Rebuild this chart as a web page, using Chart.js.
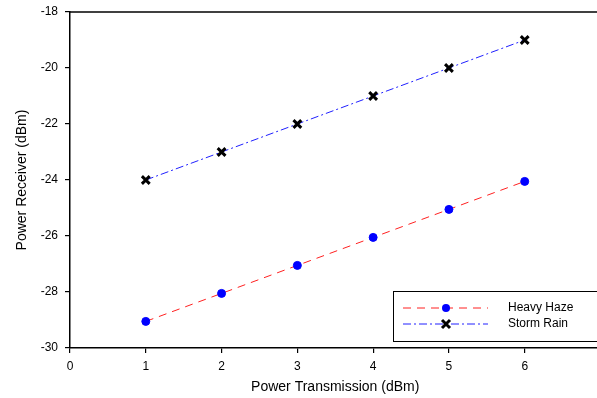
<!DOCTYPE html>
<html>
<head>
<meta charset="utf-8">
<script src="https://cdn.jsdelivr.net/npm/chart.js@4.4.1/dist/chart.umd.min.js"></script>
<style>
  html, body { margin: 0; padding: 0; background: #fff; overflow: hidden; }
  #wrap { width: 609px; height: 398px; }
</style>
</head>
<body>
<div id="wrap"><canvas id="chart" width="609" height="398"></canvas></div>
<script>
// Datos
const txPower = [1, 2, 3, 4, 5, 6];
const heavyHaze = [-29.05, -28.05, -27.05, -26.05, -25.05, -24.05];
const stormRain = [-24, -23, -22, -21, -20, -19];
const seriesNames = ['Heavy Haze', 'Storm Rain'];

const FONT = '"Liberation Sans", Arial, sans-serif';

/* -------- leyenda dentro del área + línea superior del marco -------- */
const framePlugin = {
    id: 'frame',
    afterDraw(chart) {
        const { ctx, chartArea } = chart;
        ctx.save();
        // borde superior
        ctx.strokeStyle = '#000';
        ctx.lineWidth = 1.5;
        ctx.beginPath();
        ctx.moveTo(chartArea.left, chartArea.top);
        ctx.lineTo(chartArea.right + 10, chartArea.top);
        ctx.stroke();

        // caja de la leyenda
        const bx = 393, by = 291, bw = 220, bh = 50;
        ctx.fillStyle = '#fff';
        ctx.fillRect(bx, by, bw, bh);
        ctx.lineWidth = 1;
        ctx.strokeRect(bx + 0.5, by + 0.5, bw, bh);

        const rows = [by + 17, by + 33];
        chart.data.datasets.forEach((ds, i) => {
            const y = rows[i];
            ctx.strokeStyle = ds.borderColor;
            ctx.lineWidth = 1;
            ctx.setLineDash(ds.borderDash);
            ctx.beginPath();
            ctx.moveTo(403, y);
            ctx.lineTo(488, y);
            ctx.stroke();
            ctx.setLineDash([]);
            // marcador
            const mx = 446;
            if (ds.pointStyle === 'circle') {
                ctx.fillStyle = ds.pointBackgroundColor;
                ctx.beginPath();
                ctx.arc(mx, y, 4, 0, Math.PI * 2);
                ctx.fill();
            } else {
                ctx.strokeStyle = '#000';
                ctx.lineWidth = 3;
                ctx.beginPath();
                ctx.moveTo(mx - 4, y - 4); ctx.lineTo(mx + 4, y + 4);
                ctx.moveTo(mx + 4, y - 4); ctx.lineTo(mx - 4, y + 4);
                ctx.stroke();
            }
            ctx.fillStyle = '#000';
            ctx.font = '12px ' + FONT;
            ctx.textBaseline = 'middle';
            ctx.fillText(ds.label, 508, y);
        });
        ctx.restore();
    }
};

const ctx = document.getElementById('chart').getContext('2d');
new Chart(ctx, {
    type: 'line',
    data: {
        labels: txPower,
        datasets: [
            {
                label: seriesNames[0],
                data: txPower.map((x, i) => ({ x: x, y: heavyHaze[i] })),
                borderColor: '#ff2020',
                borderWidth: 1,
                borderDash: [8, 6],
                pointStyle: 'circle',
                pointRadius: 4,
                pointBackgroundColor: '#0000ff',
                pointBorderColor: '#0000ff',
                pointBorderWidth: 1,
                fill: false,
                tension: 0
            },
            {
                label: seriesNames[1],
                data: txPower.map((x, i) => ({ x: x, y: stormRain[i] })),
                borderColor: '#2020ff',
                borderWidth: 1,
                borderDash: [8, 3, 2, 3],
                pointStyle: 'crossRot',
                pointRadius: 5.5,
                pointBorderColor: '#000',
                pointBorderWidth: 3,
                fill: false,
                tension: 0
            }
        ]
    },
    options: {
        responsive: false,
        animation: false,
        layout: { padding: { top: 12, right: 5, left: 0, bottom: 0 } },
        plugins: {
            legend: { display: false },
            tooltip: { enabled: false }
        },
        scales: {
            x: {
                type: 'linear',
                min: 0,
                max: 7,
                afterFit(scale) {
                    scale.height = 50;
                    scale.paddingLeft = 0;
                    scale.paddingRight = 0;
                },
                ticks: {
                    stepSize: 1,
                    color: '#000',
                    padding: 6,
                    font: { family: FONT, size: 12 }
                },
                grid: { display: true, drawOnChartArea: false, drawTicks: true, tickLength: 5, color: '#000', lineWidth: 1.2 },
                border: { display: true, color: '#000', width: 1.5 },
                title: {
                    display: true,
                    text: 'Power Transmission (dBm)',
                    color: '#000',
                    font: { family: FONT, size: 14 },
                    padding: { top: 4, bottom: 2 }
                }
            },
            y: {
                min: -30,
                max: -18,
                afterFit(scale) {
                    scale.width = 70;
                    scale.paddingTop = 0;
                    scale.paddingBottom = 0;
                },
                ticks: {
                    stepSize: 2,
                    color: '#000',
                    padding: 7,
                    font: { family: FONT, size: 12 }
                },
                grid: { display: true, drawOnChartArea: false, drawTicks: true, tickLength: 5, color: '#000', lineWidth: 1.2 },
                border: { display: true, color: '#000', width: 1.5 },
                title: {
                    display: true,
                    text: 'Power Receiver (dBm)',
                    color: '#000',
                    font: { family: FONT, size: 14 },
                    padding: { top: 14, bottom: 2 }
                }
            }
        }
    },
    plugins: [framePlugin]
});
</script>
</body>
</html>
